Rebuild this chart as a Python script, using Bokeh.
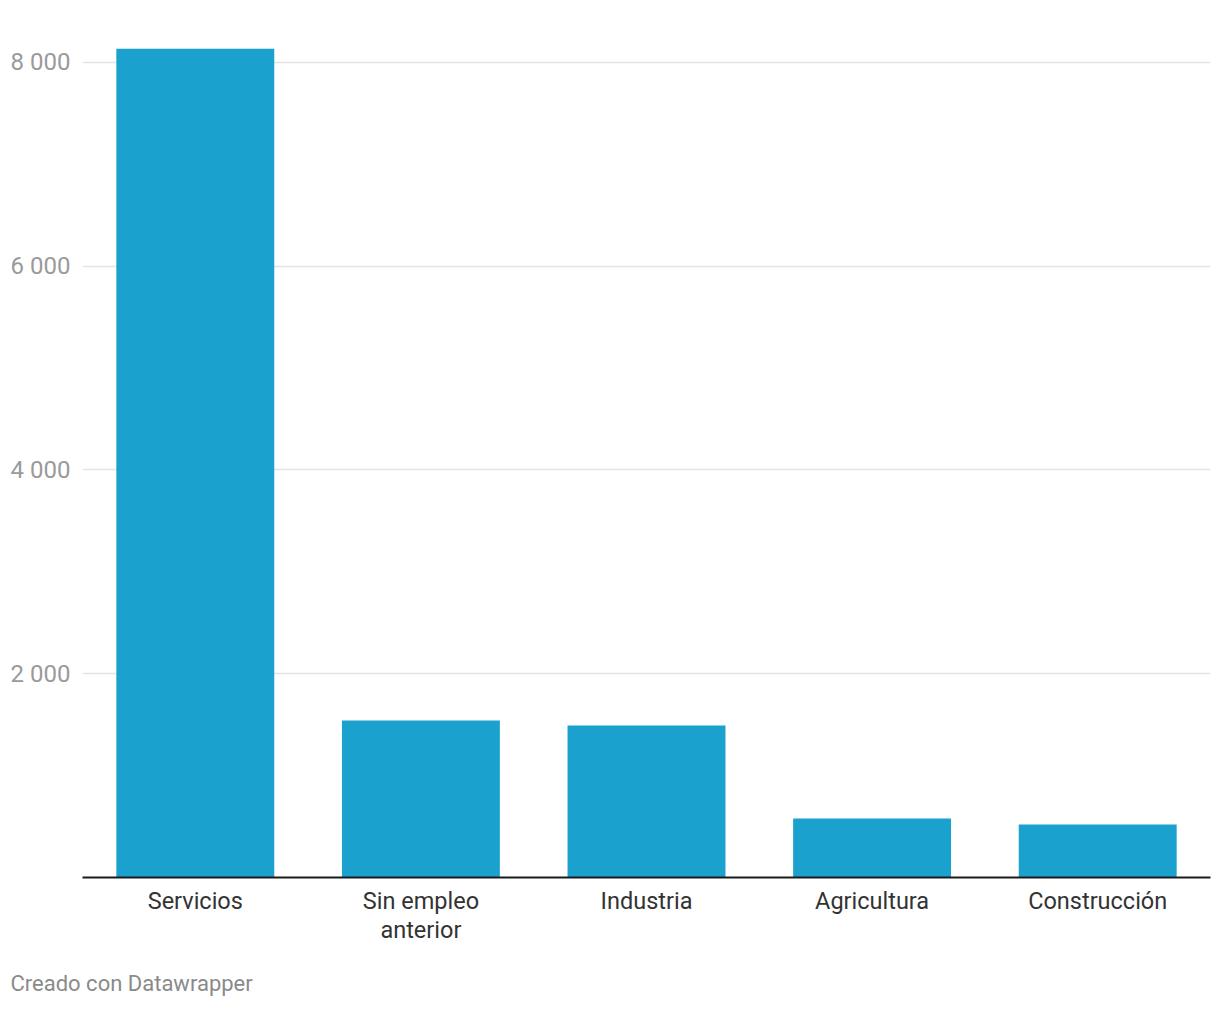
from bokeh.plotting import figure
from bokeh.models import FixedTicker, Range1d, Title
from bokeh.embed import file_html
from bokeh.resources import INLINE

categories = ["Servicios", "Sin empleo\nanterior", "Industria", "Agricultura", "Construcción"]
values = [8135, 1541, 1492, 579, 520]
y_ticks = [2000, 4000, 6000, 8000]
y_tick_labels = ["2 000", "4 000", "6 000", "8 000"]

positions = list(range(len(categories)))

p = figure(x_range=Range1d(-0.5, len(categories) - 0.5), y_range=Range1d(0, 8196),
           width=1212, height=1020,
           output_backend="svg", toolbar_location=None,
           min_border_left=82, min_border_right=2, min_border_top=42, min_border_bottom=143)
p.outline_line_color = None
p.background_fill_color = "white"

p.vbar(x=positions, top=values, width=0.7, color="#1aa1cd", line_color=None)

p.xgrid.grid_line_color = None
p.ygrid.grid_line_color = "#e4e4e4"
p.ygrid.grid_line_width = 1.5
p.yaxis.ticker = FixedTicker(ticks=y_ticks)
p.yaxis.major_label_overrides = {t: l for t, l in zip(y_ticks, y_tick_labels)}
p.yaxis.axis_line_color = None
p.yaxis.major_tick_line_color = None
p.yaxis.minor_tick_line_color = None
p.yaxis.major_label_text_font = "Roboto"
p.yaxis.major_label_text_font_size = "24px"
p.yaxis.major_label_text_color = "#9a9a9a"
p.yaxis.major_label_standoff = 6

p.xaxis.ticker = FixedTicker(ticks=positions)
p.xaxis.major_label_overrides = {i: c for i, c in zip(positions, categories)}
p.xaxis.axis_line_color = "#1a1a1a"
p.xaxis.axis_line_width = 2
p.xaxis.major_tick_line_color = None
p.xaxis.minor_tick_line_color = None
p.xaxis.major_label_text_font = "Roboto"
p.xaxis.major_label_text_font_size = "23.5px"
p.xaxis.major_label_text_line_height = 1.05
p.xaxis.major_label_text_color = "#333333"
p.xaxis.major_label_standoff = 3
p.xaxis.axis_label_standoff = 0

footer = Title(text="Creado con Datawrapper", align="left", text_font="Roboto",
               text_font_size="22px", text_color="#8a8a8a", text_font_style="normal",
               offset=-72, standoff=45)
p.add_layout(footer, "below")

open("out.html", "w").write(file_html(p, INLINE))
